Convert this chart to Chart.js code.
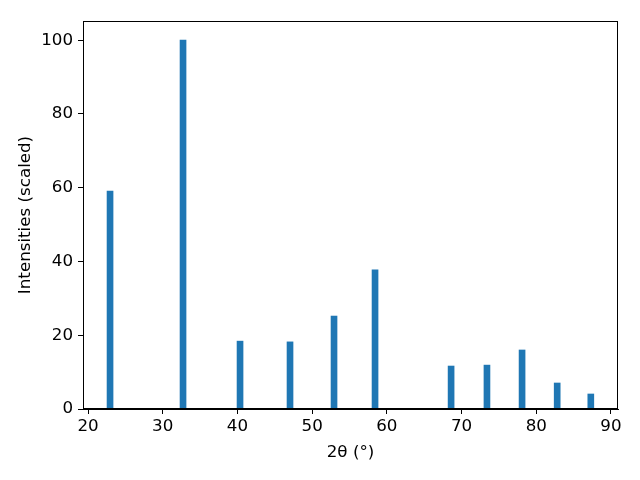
<!DOCTYPE html>
<html>
<head>
<meta charset="utf-8">
<script src="https://cdn.jsdelivr.net/npm/chart.js@4/dist/chart.umd.min.js"></script>
<style>
  html, body { margin: 0; padding: 0; background: #fff; }
  #wrap { width: 640px; height: 480px; }
</style>
</head>
<body>
<div id="wrap"><canvas id="xrd" width="640" height="480"></canvas></div>
<script>
// peak positions (2theta, degrees) and scaled intensities
var peakPos = [22.95, 32.72, 40.35, 47.04, 52.93, 58.42, 68.6, 73.4, 78.1, 82.8, 87.3];
var peakInt = [59.1, 100, 18.4, 18.2, 25.2, 37.7, 11.65, 11.9, 16.0, 7.05, 4.07];

// tick labels
var xTicks = [20, 30, 40, 50, 60, 70, 80, 90];
var yTicks = [0, 20, 40, 60, 80, 100];

var font = { family: "'DejaVu Sans', sans-serif", size: 16.7 };

// top + right spines
var frame = {
  id: "frame",
  afterDraw: function (chart) {
    var a = chart.chartArea, c = chart.ctx;
    c.save();
    c.strokeStyle = "#000";
    c.lineWidth = 1;
    c.strokeRect(a.left + 0.5, a.top + 0.5, a.right - a.left - 1, a.bottom - a.top - 1);
    c.restore();
  }
};

new Chart(document.getElementById("xrd"), {
  type: "bar",
  data: {
    datasets: [
      {
        data: peakPos.map(function (p, i) { return { x: p, y: peakInt[i] }; }),
        backgroundColor: "#1f77b4",
        borderWidth: 0,
        barThickness: 6,
      },
    ],
  },
  options: {
    responsive: false,
    animation: false,
    layout: { padding: { left: 0, top: 21, right: 22, bottom: 0 } },
    plugins: { legend: { display: false }, tooltip: { enabled: false } },
    scales: {
      x: {
        type: "linear",
        min: 19.33,
        max: 90.94,
        offset: false,
        afterBuildTicks: function (s) { s.ticks = xTicks.map(function (v) { return { value: v }; }); },
        afterFit: function (s) { s.height = 71; },
        grid: { offset: false, drawOnChartArea: false, drawTicks: true, tickLength: 5, color: "#000" },
        border: { display: true, color: "#000" },
        ticks: { color: "#000", font: font, padding: 3, maxRotation: 0 },
        title: { display: true, text: "2θ (°)", color: "#000", font: font, padding: { top: 0, bottom: 17 } },
      },
      y: {
        min: 0,
        max: 105.2,
        afterBuildTicks: function (s) { s.ticks = yTicks.map(function (v) { return { value: v }; }); },
        afterFit: function (s) { s.width = 83; },
        grid: { drawOnChartArea: false, drawTicks: true, tickLength: 5, color: "#000" },
        border: { display: true, color: "#000" },
        ticks: { color: "#000", font: font, padding: 5 },
        title: { display: true, text: "Intensities (scaled)", color: "#000", font: font, padding: { top: 16, bottom: 0 } },
      },
    },
  },
  plugins: [frame],
});
</script>
</body>
</html>
